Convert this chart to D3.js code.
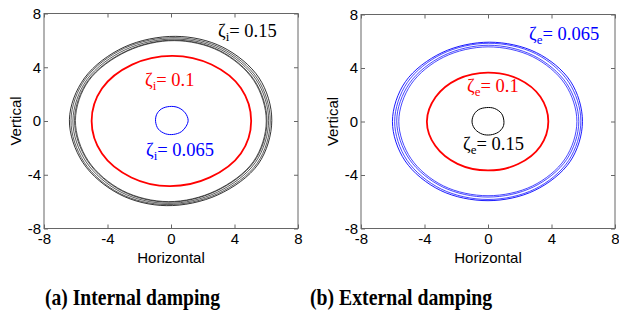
<!DOCTYPE html>
<html>
<head>
<meta charset="utf-8">
<script src="https://cdn.jsdelivr.net/npm/d3@7"></script>
<style>
  body { margin: 0; background: #fff; }
  .tick text { font-family: Arial, "Liberation Sans", sans-serif; font-size: 15px; fill: #000; }
  .axisText { font-family: Arial, "Liberation Sans", sans-serif; font-size: 15px; fill: #000; }
  .zeta { font-family: "Times New Roman", "Liberation Serif", serif; font-size: 18.5px; }
  .caption { font-family: "Times New Roman", "Liberation Serif", serif; font-size: 24px; font-weight: bold; fill: #000; }
</style>
</head>
<body>
<div class="chart"></div>
<script>
var svgWidth = 619;
var svgHeight = 322;

var ticks = [-8, -4, 0, 4, 8];

// (a) internal damping orbits, [horizontal, vertical]
var internal015 = [
  [[6.35, 0.05], [5.55, 3.2], [3.25, 5.5], [0.3, 6.3], [-2.95, 5.5], [-5.45, 3.2], [-6.4, 0.1], [-5.55, -3.1], [-3.25, -5.45], [-0.3, -6.3], [2.95, -5.5], [5.5, -3.2]],
  [[6.25, 0.0], [5.45, 3.14], [3.18, 5.42], [0.25, 6.2], [-2.92, 5.42], [-5.4, 3.12], [-6.3, 0.05], [-5.47, -3.07], [-3.22, -5.39], [-0.25, -6.22], [2.92, -5.42], [5.43, -3.14]],
  [[6.15, 0.05], [5.36, 3.08], [3.12, 5.33], [0.2, 6.1], [-2.85, 5.32], [-5.3, 3.07], [-6.18, 0.0], [-5.36, -3.02], [-3.14, -5.3], [-0.2, -6.13], [2.88, -5.32], [5.32, -3.08]],
  [[6.05, 0.0], [5.26, 3.02], [3.07, 5.24], [0.2, 6.02], [-2.78, 5.23], [-5.22, 3.02], [-6.08, 0.05], [-5.26, -2.97], [-3.07, -5.22], [-0.15, -6.04], [2.82, -5.23], [5.24, -3.02]],
  [[6.0, 0.0], [5.22, 3.0], [3.05, 5.2], [0.2, 5.98], [-2.75, 5.2], [-5.18, 3.0], [-6.02, 0.05], [-5.22, -2.95], [-3.05, -5.18], [-0.15, -6.0], [2.8, -5.2], [5.2, -3.0]]
];
var internal010 = [
  [[5.05, 0.0], [4.4, 2.45], [2.55, 4.2], [0.1, 4.85], [-2.45, 4.2], [-4.35, 2.42], [-5.0, 0.0], [-4.35, -2.42], [-2.5, -4.2], [-0.1, -4.85], [2.45, -4.2], [4.4, -2.42]]
];
var internal0065 = [
  [[1.08, 0.05], [0.9, 0.6], [0.45, 1.0], [-0.1, 1.08], [-0.6, 0.9], [-0.9, 0.5], [-0.97, -0.05], [-0.8, -0.6], [-0.35, -0.95], [0.15, -1.0], [0.65, -0.8], [0.95, -0.4]]
];

// (b) external damping orbits
var external0065 = [
  [[5.95, 0.0], [5.2, 3.0], [3.05, 5.15], [0.1, 5.93], [-2.9, 5.15], [-5.2, 2.98], [-6.02, 0.0], [-5.22, -2.95], [-3.0, -5.15], [0.0, -5.92], [2.95, -5.15], [5.18, -2.98]],
  [[5.85, 0.05], [5.08, 2.95], [2.98, 5.08], [0.05, 5.85], [-2.9, 5.05], [-5.08, 2.92], [-5.88, 0.0], [-5.1, -2.9], [-2.95, -5.05], [0.0, -5.83], [2.95, -5.05], [5.08, -2.92]],
  [[5.72, 0.0], [4.95, 2.85], [2.88, 4.92], [0.05, 5.7], [-2.82, 4.92], [-4.95, 2.85], [-5.75, 0.05], [-4.95, -2.83], [-2.85, -4.9], [0.0, -5.65], [2.85, -4.9], [4.95, -2.85]],
  [[5.6, 0.0], [4.85, 2.8], [2.8, 4.85], [0.0, 5.58], [-2.78, 4.82], [-4.85, 2.78], [-5.62, 0.0], [-4.85, -2.78], [-2.8, -4.82], [0.0, -5.55], [2.8, -4.82], [4.85, -2.8]]
];
var external010 = [
  [[3.8, 0.0], [3.3, 1.85], [1.92, 3.18], [0.0, 3.66], [-1.9, 3.17], [-3.3, 1.83], [-3.85, 0.0], [-3.32, -1.82], [-1.92, -3.17], [0.0, -3.66], [1.9, -3.18], [3.3, -1.85]]
];
var external015 = [
  [[1.0, 0.05], [0.85, 0.6], [0.4, 0.98], [-0.1, 1.04], [-0.6, 0.88], [-0.92, 0.45], [-1.0, -0.1], [-0.8, -0.6], [-0.35, -0.95], [0.15, -1.0], [0.65, -0.8], [0.95, -0.4]]
];

var svg = d3.select(".chart")
  .append("svg")
  .attr("width", svgWidth)
  .attr("height", svgHeight)
  .style("display", "block");

function drawPanel(opts) {
  var x = d3.scaleLinear().domain([-8, 8]).range([opts.left, opts.right]);
  var y = d3.scaleLinear().domain([-8, 8]).range([opts.bottom, opts.top]);
  var g = svg.append("g");

  g.append("rect")
    .attr("x", opts.left)
    .attr("y", opts.top)
    .attr("width", opts.right - opts.left)
    .attr("height", opts.bottom - opts.top)
    .attr("fill", "none")
    .attr("stroke", "#666")
    .attr("stroke-width", 1);

  // plain hyphen minus like the original figure
  var fmt = d => String(d);

  var axes = [
    { axis: d3.axisBottom(x), at: `translate(0, ${opts.bottom})`, labels: true, pad: 5 },
    { axis: d3.axisLeft(y), at: `translate(${opts.left}, 0)`, labels: true, pad: 3 },
    { axis: d3.axisTop(x), at: `translate(0, ${opts.top})`, labels: false, pad: 3 },
    { axis: d3.axisRight(y), at: `translate(${opts.right}, 0)`, labels: false, pad: 3 }
  ];
  axes.forEach(function (a) {
    var ax = g.append("g")
      .attr("transform", a.at)
      .call(a.axis.tickValues(ticks).tickFormat(fmt).tickSize(-4).tickPadding(a.pad));
    ax.select(".domain").remove();
    ax.selectAll(".tick line").attr("stroke", "#666");
    if (!a.labels) ax.selectAll(".tick text").remove();
  });

  var line = d3.line()
    .x(d => x(d[0]))
    .y(d => y(d[1]))
    .curve(d3.curveCatmullRomClosed);

  opts.series.forEach(function (s) {
    g.selectAll(null)
      .data(s.loops)
      .enter()
      .append("path")
      .attr("d", line)
      .attr("fill", "none")
      .attr("stroke", s.color)
      .attr("stroke-width", s.width)
      .attr("opacity", (d, i) => i === 0 ? 1 : 0.8);

    var t = g.append("text")
      .attr("class", "zeta")
      .attr("x", s.label[0])
      .attr("y", s.label[1])
      .attr("fill", s.color);
    t.append("tspan").text("\u03B6");
    t.append("tspan").attr("dy", 4).attr("font-size", 13).text(opts.sub);
    t.append("tspan").attr("dy", -4).text("= " + s.name);
  });

  g.append("text")
    .attr("class", "axisText")
    .attr("text-anchor", "middle")
    .attr("x", (opts.left + opts.right) / 2)
    .attr("y", 263)
    .text("Horizontal");

  g.append("text")
    .attr("class", "axisText")
    .attr("text-anchor", "middle")
    .attr("transform", `translate(${opts.left - 23}, ${(opts.top + opts.bottom) / 2}) rotate(-90)`)
    .text("Vertical");

  g.append("text")
    .attr("class", "caption")
    .attr("x", opts.caption[1])
    .attr("y", 305)
    .attr("textLength", opts.caption[2])
    .attr("lengthAdjust", "spacingAndGlyphs")
    .text(opts.caption[0]);
}

drawPanel({
  left: 44, right: 298, top: 13.5, bottom: 228.5,
  sub: "i",
  caption: ["(a)  Internal  damping", 45, 175],
  series: [
    { name: "0.15", color: "#000", width: 0.8, loops: internal015, label: [218, 37] },
    { name: "0.1", color: "#ff0000", width: 1.8, loops: internal010, label: [145, 86] },
    { name: "0.065", color: "#0000ff", width: 1, loops: internal0065, label: [146, 156] }
  ]
});

drawPanel({
  left: 361, right: 615, top: 14.5, bottom: 228.5,
  sub: "e",
  caption: ["(b)  External  damping", 310, 182],
  series: [
    { name: "0.065", color: "#0000ff", width: 0.9, loops: external0065, label: [529, 40] },
    { name: "0.1", color: "#ff0000", width: 1.8, loops: external010, label: [467, 92] },
    { name: "0.15", color: "#000", width: 1, loops: external015, label: [463, 150] }
  ]
});
</script>
</body>
</html>
